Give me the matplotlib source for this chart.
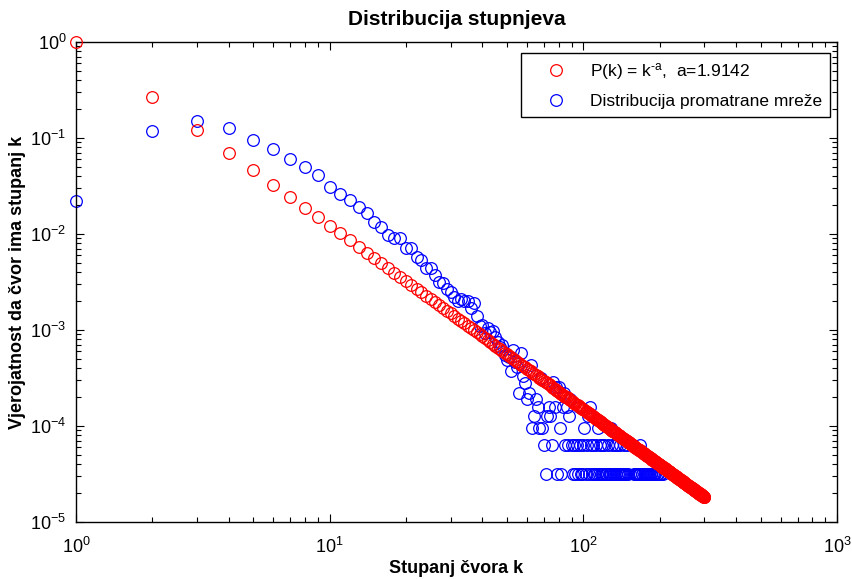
"""Distribucija stupnjeva - log-log degree distribution with a power-law fit."""

import matplotlib
matplotlib.use("Agg")
import matplotlib.pyplot as plt
import numpy as np

plt.rcParams["font.family"] = ["Liberation Sans", "DejaVu Sans"]
plt.rcParams["mathtext.fontset"] = "custom"
plt.rcParams["mathtext.rm"] = "Liberation Sans"
plt.rcParams["mathtext.it"] = "Liberation Sans:italic"
plt.rcParams["mathtext.bf"] = "Liberation Sans:bold"
plt.rcParams["mathtext.default"] = "regular"

# ---------------------------------------------------------------------------
# Data
# ---------------------------------------------------------------------------

FIT_EXPONENT_LABEL = "1.9142"

# fitted power law P(k) = k^-a, stored as log10 P for k = 1 .. 300
red_k = np.arange(1, 301)
red_log_p = [
    0.000, -0.576, -0.913, -1.152, -1.338, -1.490, -1.618, -1.729, -1.827, -1.914,
    -1.993, -2.066, -2.132, -2.194, -2.251, -2.305, -2.355, -2.403, -2.448, -2.490,
    -2.531, -2.570, -2.607, -2.642, -2.676, -2.709, -2.740, -2.770, -2.799, -2.828,
    -2.855, -2.881, -2.907, -2.932, -2.956, -2.979, -3.002, -3.024, -3.046, -3.067,
    -3.087, -3.107, -3.127, -3.146, -3.165, -3.183, -3.201, -3.218, -3.235, -3.252,
    -3.269, -3.285, -3.301, -3.316, -3.331, -3.346, -3.361, -3.376, -3.390, -3.404,
    -3.417, -3.431, -3.444, -3.457, -3.470, -3.483, -3.495, -3.508, -3.520, -3.532,
    -3.544, -3.555, -3.567, -3.578, -3.589, -3.600, -3.611, -3.622, -3.632, -3.643,
    -3.653, -3.663, -3.674, -3.683, -3.693, -3.703, -3.713, -3.722, -3.732, -3.741,
    -3.750, -3.759, -3.768, -3.777, -3.786, -3.794, -3.803, -3.812, -3.820, -3.828,
    -3.837, -3.845, -3.853, -3.861, -3.869, -3.877, -3.885, -3.892, -3.900, -3.908,
    -3.915, -3.923, -3.930, -3.937, -3.945, -3.952, -3.959, -3.966, -3.973, -3.980,
    -3.987, -3.994, -4.000, -4.007, -4.014, -4.021, -4.027, -4.034, -4.040, -4.047,
    -4.053, -4.059, -4.065, -4.072, -4.078, -4.084, -4.090, -4.096, -4.102, -4.108,
    -4.114, -4.120, -4.126, -4.131, -4.137, -4.143, -4.149, -4.154, -4.160, -4.165,
    -4.171, -4.176, -4.182, -4.187, -4.193, -4.198, -4.203, -4.209, -4.214, -4.219,
    -4.224, -4.229, -4.235, -4.240, -4.245, -4.250, -4.255, -4.260, -4.265, -4.270,
    -4.274, -4.279, -4.284, -4.289, -4.294, -4.298, -4.303, -4.308, -4.312, -4.317,
    -4.322, -4.326, -4.331, -4.335, -4.340, -4.344, -4.349, -4.353, -4.358, -4.362,
    -4.366, -4.371, -4.375, -4.379, -4.384, -4.388, -4.392, -4.396, -4.400, -4.405,
    -4.409, -4.413, -4.417, -4.421, -4.425, -4.429, -4.433, -4.437, -4.441, -4.445,
    -4.449, -4.453, -4.457, -4.461, -4.465, -4.469, -4.472, -4.476, -4.480, -4.484,
    -4.488, -4.491, -4.495, -4.499, -4.503, -4.506, -4.510, -4.514, -4.517, -4.521,
    -4.524, -4.528, -4.532, -4.535, -4.539, -4.542, -4.546, -4.549, -4.553, -4.556,
    -4.560, -4.563, -4.566, -4.570, -4.573, -4.577, -4.580, -4.583, -4.587, -4.590,
    -4.593, -4.597, -4.600, -4.603, -4.607, -4.610, -4.613, -4.616, -4.620, -4.623,
    -4.626, -4.629, -4.632, -4.635, -4.639, -4.642, -4.645, -4.648, -4.651, -4.654,
    -4.657, -4.660, -4.663, -4.666, -4.669, -4.672, -4.675, -4.678, -4.681, -4.684,
    -4.687, -4.690, -4.693, -4.696, -4.699, -4.702, -4.705, -4.708, -4.711, -4.713,
    -4.716, -4.719, -4.722, -4.725, -4.728, -4.731, -4.733, -4.736, -4.739, -4.742,
]

# observed network, low degrees: probability for k = 1 .. 62
head_k = np.arange(1, 63)
head_p = [
    0.022, 0.117, 0.150, 0.127, 0.095, 0.076, 0.061, 0.050, 0.041, 0.0306,
    0.0261, 0.0226, 0.0190, 0.0167, 0.0133, 0.0117, 0.0098, 0.0090, 0.0091, 0.0071,
    0.0071, 0.0058, 0.0053, 0.0044, 0.0044, 0.0037, 0.0032, 0.0031, 0.0027, 0.0025,
    0.0022, 0.0020, 0.0021, 0.0020, 0.0020, 0.0017, 0.0019, 0.0014, 0.0011, 0.00113,
    0.00093, 0.00105, 0.00095, 0.00098, 0.00085, 0.00075, 0.00067, 0.00070, 0.00055, 0.00049,
    0.00052, 0.00037, 0.00062, 0.00046, 0.00041, 0.00022, 0.00058, 0.00033, 0.00028, 0.00019,
    0.00022, 0.00043,
]

# observed network, high degrees: number of nodes with degree k
N_NODES = 31623
tail_k = [
    63, 64, 65, 66, 67, 68, 69, 70, 71, 72,
    73, 74, 75, 76, 77, 78, 79, 80, 81, 82,
    83, 84, 85, 86, 87, 88, 89, 90, 91, 92,
    93, 94, 95, 96, 97, 98, 99, 100, 101, 102,
    103, 104, 105, 106, 107, 108, 109, 110, 111, 112,
    113, 114, 115, 116, 117, 118, 119, 120, 121, 122,
    123, 124, 125, 126, 127, 128, 129, 130, 131, 132,
    133, 134, 135, 136, 137, 138, 139, 140, 141, 142,
    143, 144, 145, 146, 147, 149, 150, 158, 160, 161,
    163, 164, 165, 167, 168, 170, 171, 173, 175, 176,
    178, 180, 182, 184, 185, 188, 190, 192, 195, 197,
    200, 203, 206,
]
tail_count = [
    3, 4, 6, 5, 3, 10, 3, 2, 1, 4,
    5, 4, 2, 9, 5, 8, 1, 8, 3, 1,
    5, 7, 2, 5, 2, 4, 6, 2, 1, 2,
    1, 2, 1, 5, 2, 1, 1, 2, 3, 1,
    2, 4, 1, 5, 2, 1, 2, 1, 1, 2,
    1, 3, 1, 2, 1, 1, 2, 1, 2, 1,
    1, 1, 2, 1, 1, 3, 1, 2, 1, 1,
    2, 1, 1, 2, 1, 1, 1, 2, 1, 1,
    1, 2, 1, 1, 1, 2, 1, 1, 1, 1,
    1, 1, 1, 2, 1, 1, 1, 1, 1, 1,
    1, 1, 1, 1, 1, 1, 1, 1, 1, 1,
    1, 1, 1,
]

# ---------------------------------------------------------------------------
# Plot
# ---------------------------------------------------------------------------

W, H = 852, 579
fig = plt.figure(figsize=(W / 100, H / 100), dpi=100)
ax = fig.add_axes([76 / W, 1 - 522 / H, (837 - 76) / W, (522 - 42) / H])

red_p = 10.0 ** np.array(red_log_p)
blue_k = np.concatenate([head_k, tail_k])
blue_p = np.concatenate([head_p, np.array(tail_count) / N_NODES])

marker_kw = dict(linestyle="none", marker="o", markersize=8.4,
                 markerfacecolor="none", markeredgewidth=0.9, clip_on=False)
h_blue, = ax.plot(blue_k, blue_p, markeredgecolor="#0000ff", zorder=2, **marker_kw)
h_red, = ax.plot(red_k, red_p, markeredgecolor="#ff0000", zorder=3, **marker_kw)

ax.set_xscale("log")
ax.set_yscale("log")
ax.set_xlim(1, 1000)
ax.set_ylim(1e-5, 1)

for side in ax.spines.values():
    side.set_linewidth(1.0)
ax.tick_params(which="both", direction="in", top=True, right=True,
               labelsize=13, width=0.8)
ax.tick_params(which="major", length=6)
ax.tick_params(which="minor", length=3.5)
ax.tick_params(axis="x", which="major", pad=11)
ax.tick_params(axis="y", which="major", pad=7)

ax.set_title("Distribucija stupnjeva", fontsize=15, fontweight="bold", pad=12)
ax.set_xlabel("Stupanj čvora k", fontsize=13, fontweight="bold", labelpad=2)
ax.set_ylabel("Vjerojatnost da čvor ima stupanj k", fontsize=13,
              fontweight="bold")
ax.yaxis.set_label_coords(-0.066, 0.5)

leg = ax.legend(
    [h_red, h_blue],
    [r"P(k) = k$^{\text{-}a}$,  a=" + FIT_EXPONENT_LABEL,
     "Distribucija promatrane mreže"],
    loc="upper right", bbox_to_anchor=(830 / W, 1 - 53 / H),
    bbox_transform=fig.transFigure, borderaxespad=0, fontsize=12.5,
    frameon=True, fancybox=False, shadow=False, framealpha=1,
    edgecolor="black", handlelength=3.2, handletextpad=0.35,
    borderpad=0.45, labelspacing=0.7,
)
leg.get_frame().set_linewidth(1.0)

fig.savefig("out.png", dpi=100)
